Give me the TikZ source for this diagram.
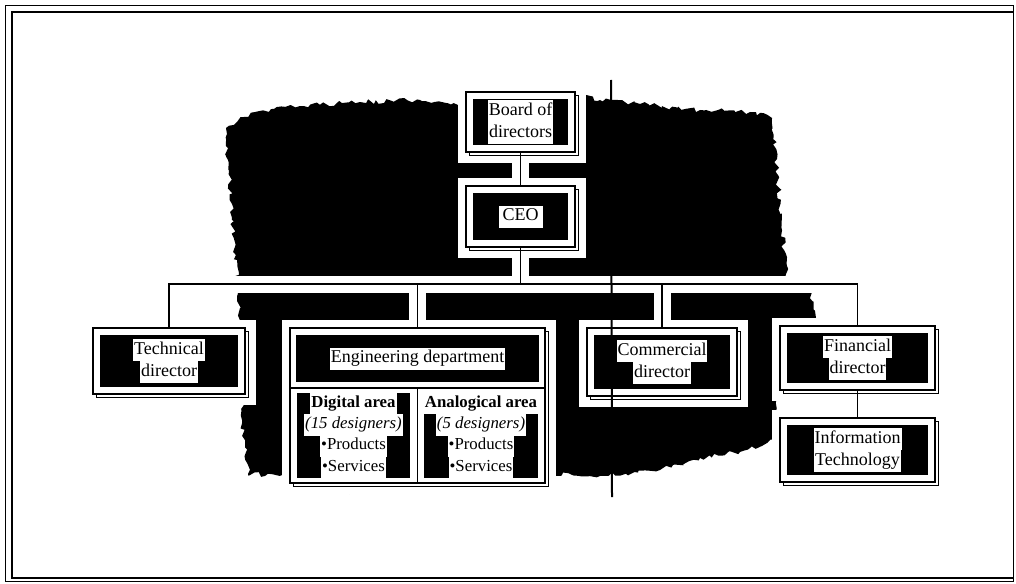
\documentclass[tikz,border=0pt]{standalone}
\usepackage{fontspec}
\setmainfont{Liberation Serif}
\usetikzlibrary{shadows,calc,decorations.pathmorphing}
\pgfdeclarelayer{blob}
\pgfdeclarelayer{halo}
\pgfsetlayers{blob,halo,main}
\newcommand\orgfont{\fontsize{18}{20}\selectfont\lineskip=0pt\lineskiplimit=0pt}
\newcommand\cellfont{\fontsize{16.8}{19.2}\selectfont\lineskip=0pt\lineskiplimit=0pt}
\newcommand\whitepatch[1]{{\setlength{\fboxsep}{1pt}\colorbox{white}{\strut#1}}}
\begin{document}
\begin{tikzpicture}[x=1pt,y=-1pt,
  framebox/.style={rectangle, draw=black, line width=1.6pt, fill=white,
    inner sep=0pt, outer sep=0pt,
    drop shadow={shadow xshift=3.5pt, shadow yshift=-3.5pt, fill=white,
      draw=black, line width=1.3pt, opacity=1}},
  orgbox/.style={framebox, align=center, font=\orgfont,
    path picture={\fill[black]
      ([shift={(7pt,7pt)}]path picture bounding box.south west) rectangle
      ([shift={(-7pt,-7pt)}]path picture bounding box.north east);}},
  cellbox/.style={rectangle, fill=black, inner sep=0pt, outer sep=0pt,
    align=center, font=\cellfont},
  link/.style={draw=black, line width=1.8pt},
  linkhalo/.style={draw=white, line width=17pt},
]
\useasboundingbox (0,0) rectangle (1016,583);

% page frame
\draw[line width=0.8pt] (5,5) rectangle (1013,581);
\draw[line width=2pt] (1013,12) -- (12,12) -- (12,578) -- (1013,578);

% boxes
\node[orgbox, minimum width=109pt, minimum height=60pt] (board) at (520.5,122)
  {\whitepatch{Board of}\\\whitepatch{directors}};
\node[orgbox, minimum width=109pt, minimum height=61pt] (ceo) at (520.5,216.5)
  {\whitepatch{\,CEO\,}};
\node[orgbox, minimum width=152pt, minimum height=66pt] (tech) at (169,361)
  {\whitepatch{Technical}\\\whitepatch{director}};
\node[orgbox, minimum width=150pt, minimum height=68pt] (comm) at (662,362)
  {\whitepatch{Commercial}\\\whitepatch{director}};
\node[orgbox, minimum width=155pt, minimum height=64pt] (fin) at (857.5,358)
  {\whitepatch{Financial}\\\whitepatch{director}};
\node[orgbox, minimum width=155pt, minimum height=64pt] (it) at (857.5,450)
  {\whitepatch{Information}\\\whitepatch{Technology}};

% engineering department with its two areas
\node[framebox, minimum width=255pt, minimum height=155pt] (eng) at (417.5,405.5) {};
\node[cellbox, font=\orgfont, minimum width=243pt, minimum height=47pt] (enghead) at (417.5,358.5)
  {\whitepatch{Engineering department}};
\node[cellbox, minimum width=113pt, minimum height=83pt] (digital) at (353.5,435.5)
  {\whitepatch{\textbf{Digital area}}\\\whitepatch{\textit{(15 designers)}}\\
   \whitepatch{•Products}\\\whitepatch{•Services}};
\node[cellbox, minimum width=114pt, minimum height=83pt] (analog) at (481,435.5)
  {\whitepatch{\textbf{Analogical area}}\\\whitepatch{\textit{(5 designers)}}\\
   \whitepatch{•Products}\\\whitepatch{•Services}};
\coordinate (engmid) at (417.5,388);
\draw[line width=1.6pt] (eng.west |- engmid) -- (eng.east |- engmid);
\draw[line width=1.6pt] (engmid) -- (eng.south -| engmid);

% bus level
\coordinate (bus) at (520.5,284);

% shaded backdrop behind the chart
\begin{pgfonlayer}{blob}
\pgfmathsetseed{7}
\fill[black, decorate, decoration={random steps, segment length=4pt, amplitude=2.5pt}]
  (226,128) -- (255,112) -- (300,106) -- (360,102) -- (420,100) -- (462,104)
  -- (470,92) -- (575,92) -- (600,100) -- (640,104) -- (700,110) -- (750,112)
  -- (772,118) -- (778,180) -- (784,250) -- (788,278) -- (812,292) -- (814,322)
  -- (778,330) -- (776,380) -- (774,440) -- (740,452) -- (700,458) -- (660,470)
  -- (600,476) -- (548,474) -- (548,490) -- (290,492) -- (286,476) -- (248,474)
  -- (242,420) -- (240,330) -- (238,290) -- (232,220) -- (228,160) -- cycle;
\end{pgfonlayer}

% white clearance round boxes and lines
\begin{pgfonlayer}{halo}
\foreach \n in {board,ceo,tech,eng,comm,fin,it}
  \fill[white] ([shift={(-8pt,-11pt)}]\n.south west) rectangle ([shift={(11pt,8pt)}]\n.north east);
\draw[linkhalo] (board.south) -- (ceo.north);
\draw[linkhalo] (ceo.south) -- (ceo.south |- bus);
\draw[linkhalo] (tech.north) -- (tech.north |- bus) -- (fin.north |- bus) -- (fin.north);
\draw[linkhalo] (eng.north) -- (eng.north |- bus);
\draw[linkhalo] (comm.north) -- (comm.north |- bus);
\draw[linkhalo] (fin.south) -- (it.north);
\end{pgfonlayer}

% connectors
\draw[link] (board.south) -- (ceo.north);
\draw[link] (ceo.south) -- (ceo.south |- bus);
\draw[link] (tech.north) -- (tech.north |- bus) -- (fin.north |- bus) -- (fin.north);
\draw[link] (eng.north) -- (eng.north |- bus);
\draw[link] (comm.north) -- (comm.north |- bus);
\draw[link] (fin.south) -- (it.north);

% fold line across the sheet
\coordinate (foldtop) at (611,80);
\coordinate (foldbot) at (612,497);
\draw[line width=2pt] (foldtop) -- (foldbot);
\end{tikzpicture}
\end{document}
